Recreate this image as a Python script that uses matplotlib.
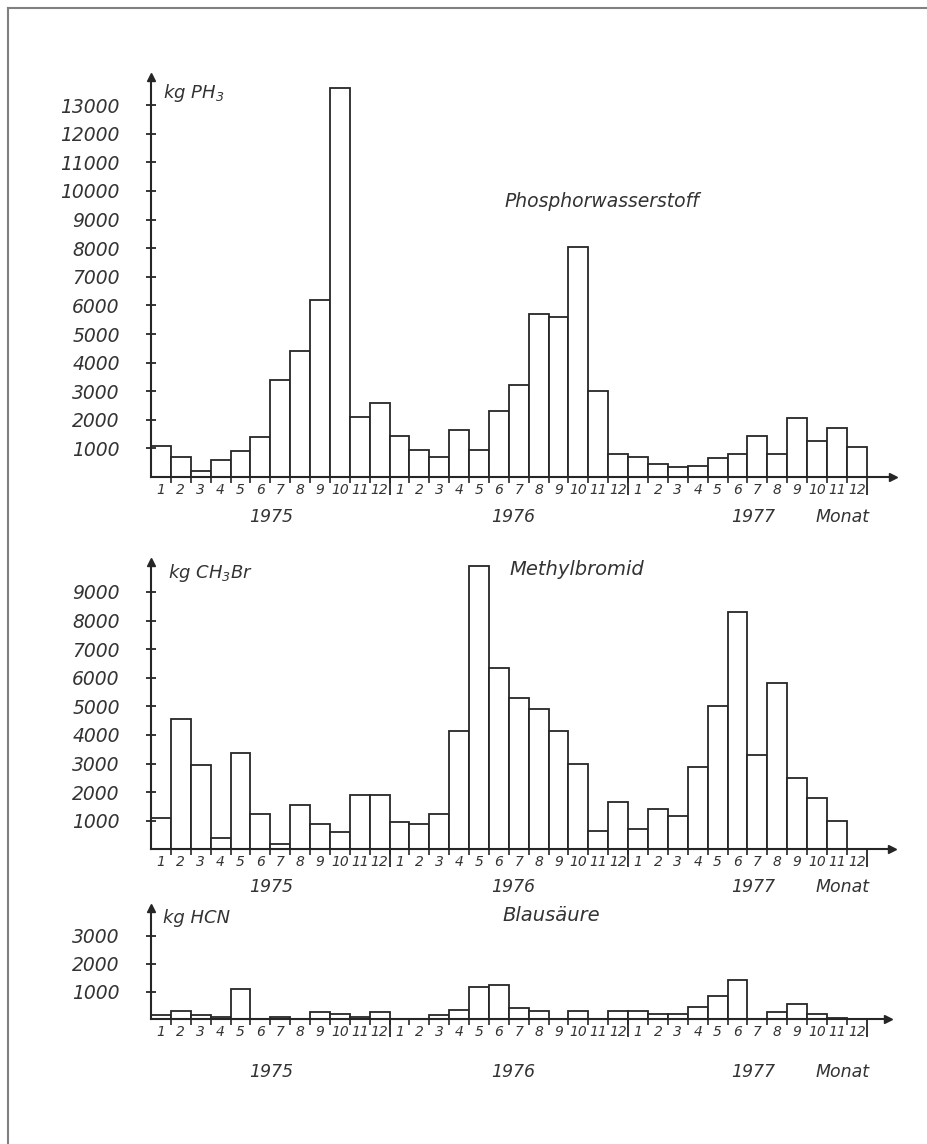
import numpy as np
import matplotlib
matplotlib.use('Agg')
import matplotlib.pyplot as plt
from matplotlib.lines import Line2D

W, H = 927, 1144
X0 = 151          # pixel column of the y axes
MONTH_PX = 19.88  # width of one month in pixels
INK = '#262626'

months = [str(m) for m in range(1, 13)] * 3
years = ['1975', '1976', '1977']
year_pos = [6.05, 18.2, 30.3]

# kg Phosphorwasserstoff per month, 1975-1977
ph3 = [1100, 700, 200, 600, 900, 1400, 3400, 4400, 6200, 13600, 2100, 2600,
       1450, 950, 700, 1650, 950, 2300, 3200, 5700, 5600, 8050, 3000, 800,
       700, 450, 350, 400, 650, 800, 1450, 800, 2050, 1250, 1700, 1050]
# kg Methylbromid
ch3br = [1100, 4550, 2950, 400, 3350, 1250, 200, 1550, 900, 600, 1900, 1900,
         950, 900, 1250, 4150, 9900, 6350, 5300, 4900, 4150, 3000, 650, 1650,
         700, 1400, 1150, 2870, 5000, 8300, 3300, 5800, 2500, 1800, 1000, 0]
# kg Blausaeure
hcn = [150, 300, 150, 100, 1100, 0, 100, 0, 250, 200, 100, 250,
       0, 0, 150, 350, 1150, 1250, 400, 300, 0, 300, 0, 300,
       300, 200, 200, 450, 850, 1400, 0, 250, 550, 200, 50, 0]

plt.rcParams['font.family'] = ['DejaVu Sans']
plt.rcParams['font.style'] = 'italic'
plt.rcParams['mathtext.default'] = 'it'
plt.rcParams['text.color'] = '#333333'

fig = plt.figure(figsize=(W / 100, H / 100), dpi=100)


def panel(top, base, right, px1000, values, ytop, unit, unit_off,
          name, name_xy, name_size, year_dy):
    ax = fig.add_axes([X0 / W, 1 - base / H, (right - X0) / W, (base - top) / H])
    ax.set_xlim(0, (right - X0) / MONTH_PX)
    ax.set_ylim(0, (base - top) / px1000 * 1000)
    x = np.arange(len(values)) + 0.5
    ax.bar(x, values, width=1, facecolor='white', edgecolor=INK, linewidth=1.3)

    for s in ['top', 'right']:
        ax.spines[s].set_visible(False)
    for s in ['left', 'bottom']:
        ax.spines[s].set_linewidth(1.5)
        ax.spines[s].set_color(INK)
    ax.plot(1, 0, '>', color=INK, ms=6, transform=ax.transAxes, clip_on=False)
    ax.plot(0, 1, '^', color=INK, ms=6, transform=ax.transAxes, clip_on=False)

    yt = np.arange(1000, ytop + 1, 1000)
    ax.set_yticks(yt, [str(v) for v in yt])
    ax.tick_params(axis='y', direction='inout', length=7, width=1.3,
                   color=INK, pad=19, labelsize=13.5, labelcolor='#333333')

    ax.set_xticks(x, months)
    ax.tick_params(axis='x', which='major', length=0, pad=4, labelsize=10,
                   labelcolor='#333333')
    ax.set_xticks(np.arange(1, 36), minor=True)
    ax.tick_params(axis='x', which='minor', direction='out', length=4.5,
                   width=1.2, color=INK)
    sec = ax.secondary_xaxis('bottom')
    sec.set_xticks([12, 24, 36], [])
    sec.tick_params(length=13, width=1.3, color=INK)
    sec.spines['bottom'].set_visible(False)

    for yr, p in zip(years, year_pos):
        ax.annotate(yr, xy=(p, 0), xytext=(0, -year_dy), textcoords='offset points',
                    ha='center', va='center', fontsize=12.5)
    ax.annotate('Monat', xy=(34.8, 0), xytext=(0, -year_dy), textcoords='offset points',
                ha='center', va='center', fontsize=12.5)

    ax.annotate(unit, xy=(0, 1), xycoords='axes fraction', xytext=unit_off,
                textcoords='offset points', ha='left', va='baseline', fontsize=13)
    ax.text(name_xy[0], name_xy[1], name, ha='left', va='center', fontsize=name_size)
    return ax


panel(76.7, 477, 893, 28.6, ph3, 13000, 'kg PH$_3$', (8.6, -15),
      'Phosphorwasserstoff', (17.8, 9650), 13.5, 29)
panel(561.7, 849.3, 891.7, 28.6, ch3br, 9000, 'kg CH$_3$Br', (12, -12),
      'Methylbromid', (18.05, 9766), 14, 27)
panel(908.3, 1019.3, 888, 27.8, hcn, 3000, 'kg HCN', (8.6, -10.8),
      'Blausäure', (17.7, 3750), 14, 38)

# frame of the scanned page
fig.add_artist(Line2D([8 / W, 1], [1 - 8 / H, 1 - 8 / H], color='#808080', lw=1.5))
fig.add_artist(Line2D([8 / W, 8 / W], [0, 1 - 8 / H], color='#808080', lw=1.5))

fig.savefig('out.png', dpi=100, facecolor='white')
